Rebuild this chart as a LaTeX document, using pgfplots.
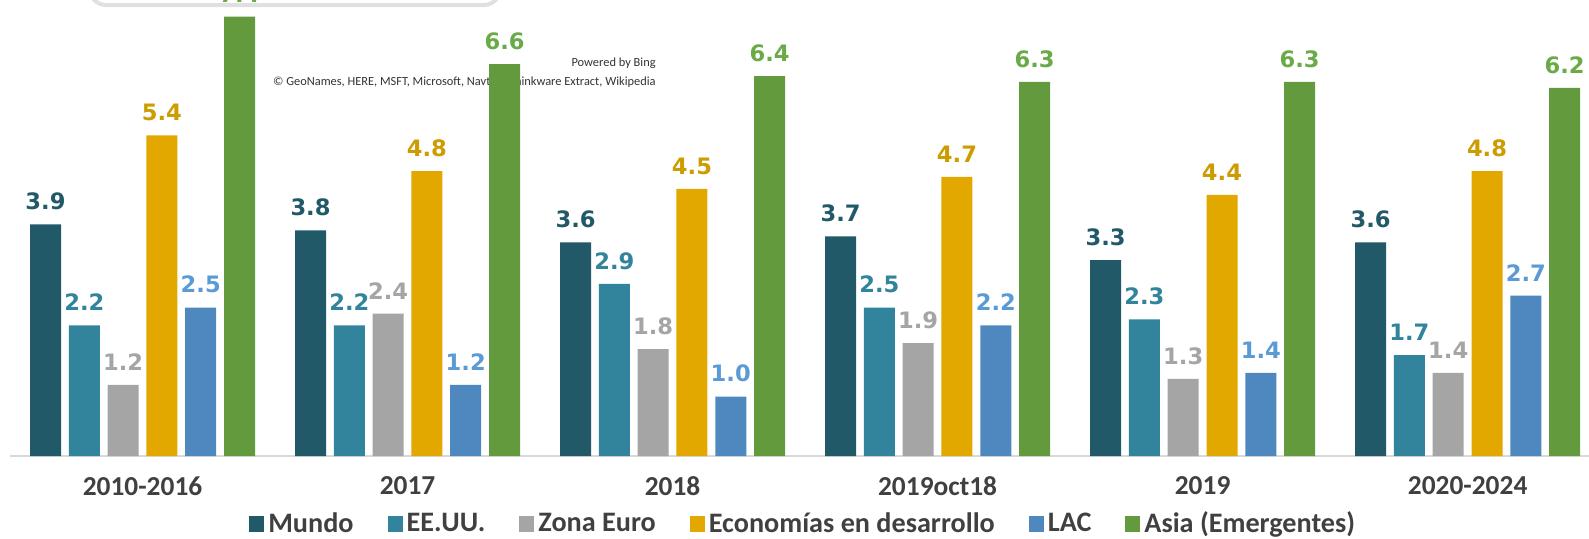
\documentclass[border=0pt]{standalone}
\usepackage{fontspec}
\setmainfont{Carlito}
\newfontfamily\verd{DejaVu Sans}
\usepackage{pgfplots}
\pgfplotsset{compat=1.18}
\definecolor{cMundo}{HTML}{215968}
\definecolor{cEEUU}{HTML}{31849B}
\definecolor{cZona}{HTML}{A5A5A5}
\definecolor{cEcon}{HTML}{E2A800}
\definecolor{cLAC}{HTML}{4F88BE}
\definecolor{cAsia}{HTML}{629A3D}
\definecolor{lMundo}{HTML}{215968}
\definecolor{lEEUU}{HTML}{31849B}
\definecolor{lZona}{HTML}{A5A5A5}
\definecolor{lEcon}{HTML}{CC9C00}
\definecolor{lLAC}{HTML}{5B9BD5}
\definecolor{lAsia}{HTML}{6AAA48}
\definecolor{txt}{HTML}{404040}
\begin{document}
\begin{tikzpicture}
\useasboundingbox (0pt,0pt) rectangle (794.5pt,269pt);
\clip (0pt,0pt) rectangle (794.5pt,269pt);
\draw[black!12, line width=2pt, fill=white, rounded corners=8pt] (45pt,266.5pt) rectangle (250pt,300pt);
\node[anchor=east, inner sep=0pt, font=\fontsize{6.2}{7}\selectfont, text=black!80] at (328pt,237.5pt) {Powered by Bing};
\node[anchor=east, inner sep=0pt, font=\fontsize{6.2}{7}\selectfont, text=black!80] at (328pt,228pt) {\textcopyright{} GeoNames, HERE, MSFT, Microsoft, Navteq, Thinkware Extract, Wikipedia};
\begin{axis}[
  at={(5pt,41pt)}, anchor=south west,
  scale only axis, width=789.5pt, height=228pt,
  ybar=3.9pt, bar width=15.5pt,
  xmin=-0.5, xmax=5.458, ymin=0, ymax=7.68,
  enlargelimits=false, clip=false,
  xtick={0,...,5},
  xticklabels={2010-2016,2017,2018,2019oct18,2019,2020-2024},
  xticklabel style={font=\fontsize{13.7}{16}\selectfont\bfseries, text=txt, inner sep=0pt, yshift=-10pt},
  major tick length=0pt,
  hide y axis,
  axis x line*=bottom,
  x axis line style={draw=black!15, line width=1.2pt},
  nodes near coords,
  every node near coord/.append style={font=\verd\bfseries\fontsize{11.3}{13}\selectfont, inner sep=0pt, yshift=7pt},
  legend columns=6,
  legend style={at={(0.503,-0.149)}, anchor=center, draw=none, fill=none,
    font=\fontsize{14.1}{16}\selectfont\bfseries, text=txt,
    /tikz/every odd column/.append style={column sep=0pt},
    /tikz/every even column/.append style={column sep=15pt}},
  legend image code/.code={\draw[#1, draw=none] (0pt,-4.2pt) rectangle (7.5pt,4.2pt);},
  /pgf/number format/.cd, fixed, fixed zerofill, precision=1, assume math mode=true
]
\addplot[fill=cMundo, draw=none, every node near coord/.append style={text=lMundo}] coordinates {(0,3.9)(1,3.8)(2,3.6)(3,3.7)(4,3.3)(5,3.6)};
\addplot[fill=cEEUU, draw=none, every node near coord/.append style={text=lEEUU}] coordinates {(0,2.2)(1,2.2)(2,2.9)(3,2.5)(4,2.3)(5,1.7)};
\addplot[fill=cZona, draw=none, every node near coord/.append style={text=lZona}] coordinates {(0,1.2)(1,2.4)(2,1.8)(3,1.9)(4,1.3)(5,1.4)};
\addplot[fill=cEcon, draw=none, every node near coord/.append style={text=lEcon}] coordinates {(0,5.4)(1,4.8)(2,4.5)(3,4.7)(4,4.4)(5,4.8)};
\addplot[fill=cLAC, draw=none, every node near coord/.append style={text=lLAC}] coordinates {(0,2.5)(1,1.2)(2,1.0)(3,2.2)(4,1.4)(5,2.7)};
\addplot[fill=cAsia, draw=none, every node near coord/.append style={text=lAsia}] coordinates {(0,7.4)(1,6.6)(2,6.4)(3,6.3)(4,6.3)(5,6.2)};
\legend{Mundo, EE.UU., Zona Euro, Economías en desarrollo, LAC, Asia (Emergentes)}
\end{axis}
\end{tikzpicture}
\end{document}
